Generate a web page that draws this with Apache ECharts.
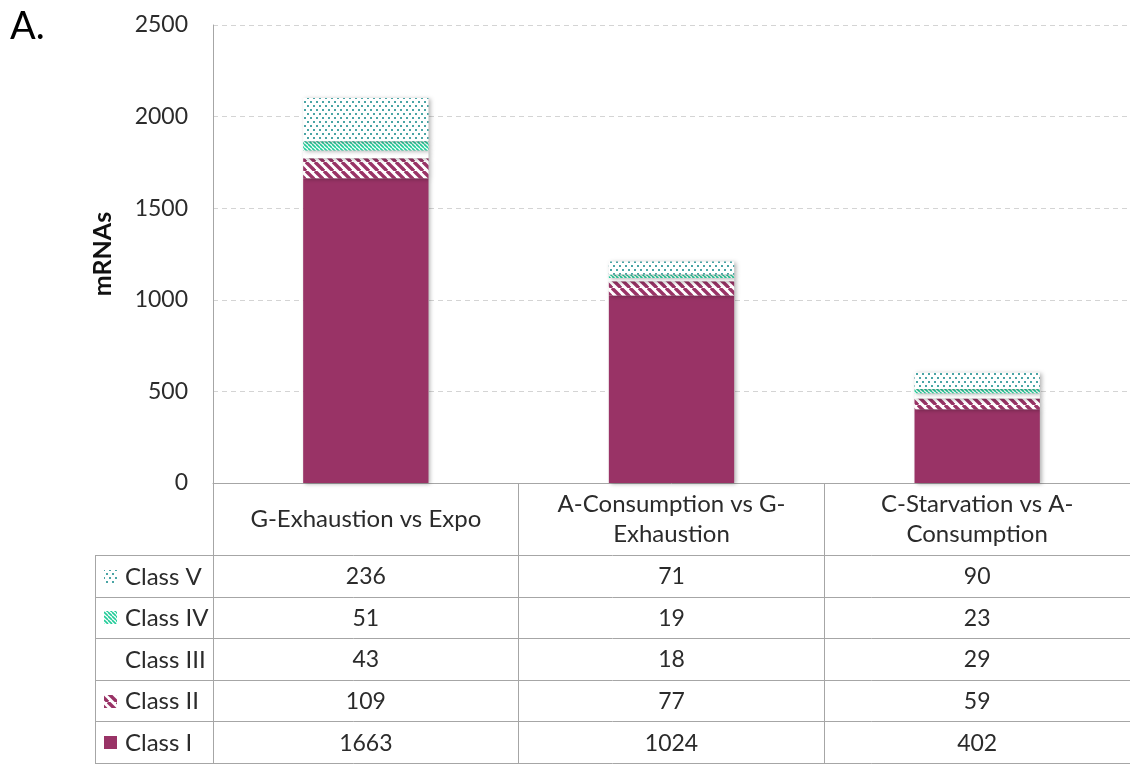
<!DOCTYPE html>
<html>
<head>
<meta charset="utf-8">
<script src="https://cdn.jsdelivr.net/npm/echarts@6/dist/echarts.min.js"></script>
<style>
html,body{margin:0;padding:0;background:#fff;}
#main{width:1130px;height:764px;}
</style>
</head>
<body>
<div id="main"></div>
<script>
// ---------- data ----------
const categories = ['G-Exhaustion vs Expo', 'A-Consumption vs G-Exhaustion', 'C-Starvation vs A-Consumption'];
const classNames = ['Class I', 'Class II', 'Class III', 'Class IV', 'Class V'];
const classI   = [1663, 1024, 402];
const classII  = [109, 77, 59];
const classIII = [43, 18, 29];
const classIV  = [51, 19, 23];
const classV   = [236, 71, 90];
const yTicks = [0, 500, 1000, 1500, 2000, 2500];
const yAxisTitle = 'mRNAs';
const panelLabel = 'A.';

// ---------- styles ----------
const FONT = 'Lato, "Open Sans", sans-serif';
const TXT = '#2b2b2b';
const LINE = '#a6a6a6';
const MAROON = '#993366';

function stripes(color, size, lw) {
  const c = document.createElement('canvas');
  c.width = c.height = size;
  const g = c.getContext('2d');
  g.fillStyle = '#ffffff'; g.fillRect(0, 0, size, size);
  g.strokeStyle = color; g.lineWidth = lw;
  for (const o of [-size, 0, size]) {
    g.beginPath(); g.moveTo(o, 0); g.lineTo(o + size, size); g.stroke();
  }
  return c;
}
function dots(color) {
  const c = document.createElement('canvas');
  c.width = 6; c.height = 8;
  const g = c.getContext('2d');
  g.fillStyle = '#ffffff'; g.fillRect(0, 0, 6, 8);
  g.fillStyle = color;
  g.fillRect(1, 1, 2, 2);
  g.fillRect(4, 5, 2, 2);
  return c;
}
const fills = [
  MAROON,
  { image: stripes(MAROON, 9, 3.4), repeat: 'repeat' },
  '#ffffff',
  { image: stripes('#22cc99', 4, 1.6), repeat: 'repeat' },
  { image: dots('#4aa5a5'), repeat: 'repeat' }
];
const seriesData = [classI, classII, classIII, classIV, classV];

// ---------- layout ----------
const W = 1130, H = 764;
const gridLeft = 213, gridTop = 25, plotBottom = 483;
const headerBottom = 556;
const tableLeft = 95;
const nRows = classNames.length;
const rowH = (H - headerBottom) / nRows;

// label wrapping by measured width
const mctx = document.createElement('canvas').getContext('2d');
mctx.font = '24px ' + FONT;
function wrap(text, maxW) {
  const tokens = text.match(/[^ -]*-|[^ -]+| +/g) || [text];
  const lines = []; let cur = '';
  for (const t of tokens) {
    const trial = cur + t;
    if (cur && mctx.measureText(trial.trim()).width > maxW) {
      lines.push(cur.trim()); cur = t.trimStart();
    } else cur = trial;
  }
  if (cur.trim()) lines.push(cur.trim());
  return lines.join('\n');
}

const chart = echarts.init(document.getElementById('main'), null, { renderer: 'canvas' });

const series = seriesData.map((d, i) => ({
  name: classNames[i],
  type: 'bar',
  stack: 'total',
  data: d,
  barWidth: '41%',
  silent: true,
  itemStyle: {
    color: fills[i],
    shadowColor: 'rgba(0,0,0,0.30)',
    shadowBlur: 4,
    shadowOffsetX: 2,
    shadowOffsetY: 1
  }
}));

chart.setOption({
  animation: false,
  grid: { left: gridLeft, right: 0, top: gridTop, bottom: H - plotBottom, containLabel: false },
  xAxis: {
    type: 'category',
    data: categories,
    boundaryGap: true,
    axisLine: { show: true, lineStyle: { color: LINE, width: 1 } },
    axisTick: { show: true, alignWithLabel: false, interval: 0, length: H - plotBottom, lineStyle: { color: LINE, width: 1 } },
    axisLabel: {
      interval: 0,
      margin: (headerBottom - plotBottom) / 2,
      verticalAlign: 'middle',
      fontFamily: FONT, fontSize: 24, color: TXT, lineHeight: 30,
      formatter: v => wrap(v, 290)
    }
  },
  yAxis: {
    type: 'value',
    min: yTicks[0], max: yTicks[yTicks.length - 1], interval: yTicks[1] - yTicks[0],
    axisLine: { show: true, lineStyle: { color: LINE } },
    axisTick: { show: false },
    splitLine: { show: true, lineStyle: { color: '#d4d4d4', type: [5, 4] } },
    axisLabel: { margin: 25, fontFamily: FONT, fontSize: 23, color: TXT, formatter: v => String(v) },
    name: yAxisTitle,
    nameLocation: 'middle',
    nameGap: 98,
    nameRotate: 90,
    nameTextStyle: { fontFamily: FONT, fontSize: 25, fontWeight: 'bold', color: '#111' }
  },
  series: series
});

// ---------- data table below the chart ----------
function buildTable() {
  const els = [];
  els.push({ type: 'text', left: 10, top: 8, style: { text: panelLabel, font: '38px ' + FONT, fill: '#000' } });
  els.push({ type: 'line', shape: { x1: tableLeft + 0.5, y1: headerBottom, x2: tableLeft + 0.5, y2: H }, style: { stroke: LINE, lineWidth: 1 } });
  for (let r = 0; r <= nRows; r++) {
    const y = Math.round(headerBottom + r * rowH) - 0.5;
    els.push({ type: 'line', shape: { x1: tableLeft, y1: y, x2: W, y2: y }, style: { stroke: LINE, lineWidth: 1 } });
  }
  for (let r = 0; r < nRows; r++) {
    const ci = nRows - 1 - r;
    const cy = headerBottom + r * rowH + rowH / 2;
    if (fills[ci] !== '#ffffff') {
      els.push({ type: 'rect', shape: { x: 104, y: Math.round(cy - 7), width: 13, height: 13 }, style: { fill: fills[ci] } });
    }
    els.push({ type: 'text', x: 125, y: cy, style: { text: classNames[ci], font: '24px ' + FONT, fill: TXT, verticalAlign: 'middle', textVerticalAlign: 'middle' } });
    seriesData[ci].forEach((v, k) => {
      const px = chart.convertToPixel({ xAxisIndex: 0 }, k);
      els.push({ type: 'text', x: px, y: cy, style: { text: String(v), font: '23px ' + FONT, fill: TXT, align: 'center', textAlign: 'center', verticalAlign: 'middle', textVerticalAlign: 'middle' } });
    });
  }
  chart.setOption({ graphic: { elements: els } });
}
buildTable();
</script>
</body>
</html>
